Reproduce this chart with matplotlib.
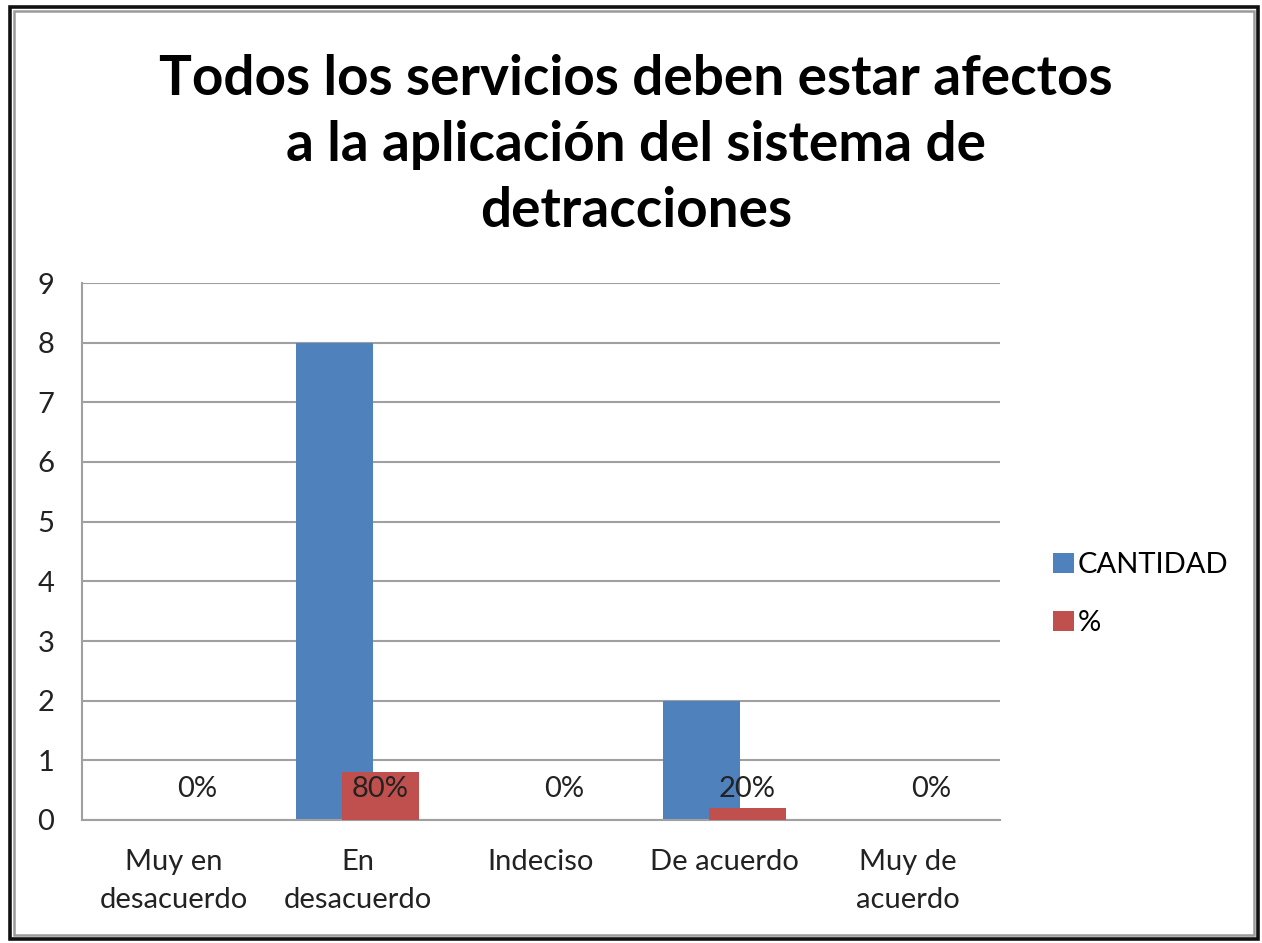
import matplotlib
matplotlib.use("Agg")
import matplotlib.pyplot as plt
from matplotlib.patches import Rectangle
import numpy as np

categories = ["Muy en\ndesacuerdo", "En\ndesacuerdo", "Indeciso", "De acuerdo", "Muy de\nacuerdo"]
cantidad = [0, 8, 0, 2, 0]
porcentaje = [0.0, 0.8, 0.0, 0.2, 0.0]
pct_labels = ["0%", "80%", "0%", "20%", "0%"]
series_names = ["CANTIDAD", "%"]
title = "Todos los servicios deben estar afectos\na la aplicación del sistema de\ndetracciones"

plt.rcParams['font.family'] = ['Lato', 'DejaVu Sans']

W, H = 1262, 943
fig = plt.figure(figsize=(W/100, H/100), dpi=100)

# frame
fig.patches.append(Rectangle((10/W, 4/H), 1248/W, 932/H, transform=fig.transFigure,
                             fill=False, edgecolor='#111111', lw=2.6))
fig.patches.append(Rectangle((14/W, 8/H), 1240/W, 924/H, transform=fig.transFigure,
                             fill=False, edgecolor='#9a9a9a', lw=1.8))

FS = 21
ax = fig.add_axes([82/W, (H-820)/H, (1000-82)/W, (820-283)/H])
x = np.arange(len(categories))
bw = 0.42
off = 0.125
b1 = ax.bar(x - off, cantidad, width=bw, color='#4f81bd', label=series_names[0], zorder=2)
b2 = ax.bar(x + off, porcentaje, width=bw, color='#c0504d', label=series_names[1], zorder=3)
for xi, lab in zip(x, pct_labels):
    ax.text(xi + off, 0.52, lab, ha='center', va='center', fontsize=FS, color='#222222', zorder=4)

ax.set_xlim(-0.5, len(categories) - 0.5)
ax.set_ylim(0, 9)
ax.set_yticks(range(0, 10))
ax.yaxis.grid(True, color='#a0a0a0', lw=1.5, zorder=0)
ax.set_axisbelow(True)
for s in ['top', 'right']:
    ax.spines[s].set_visible(False)
ax.spines['left'].set_color('#a0a0a0')
ax.spines['bottom'].set_color('#a0a0a0')
ax.spines['left'].set_linewidth(1.5)
ax.spines['bottom'].set_linewidth(1.5)
ax.tick_params(axis='both', length=0, labelsize=FS, colors='#222222')
ax.tick_params(axis='y', pad=20)
ax.tick_params(axis='x', pad=21)
ax.set_xticks(x)
ax.set_xticklabels(categories, linespacing=1.55)

fig.text(636/W, 1 - 145/H, title, ha='center', va='center', fontsize=39.5,
         fontweight='bold', linespacing=1.4)

leg = fig.legend(handles=[b1, b2], loc='center left', bbox_to_anchor=(1027/W, 1 - 594/H),
                 frameon=False, fontsize=FS, handlelength=0.7, handleheight=0.7,
                 handletextpad=0.15, labelspacing=1.1)

fig.savefig("out.png", dpi=100)
